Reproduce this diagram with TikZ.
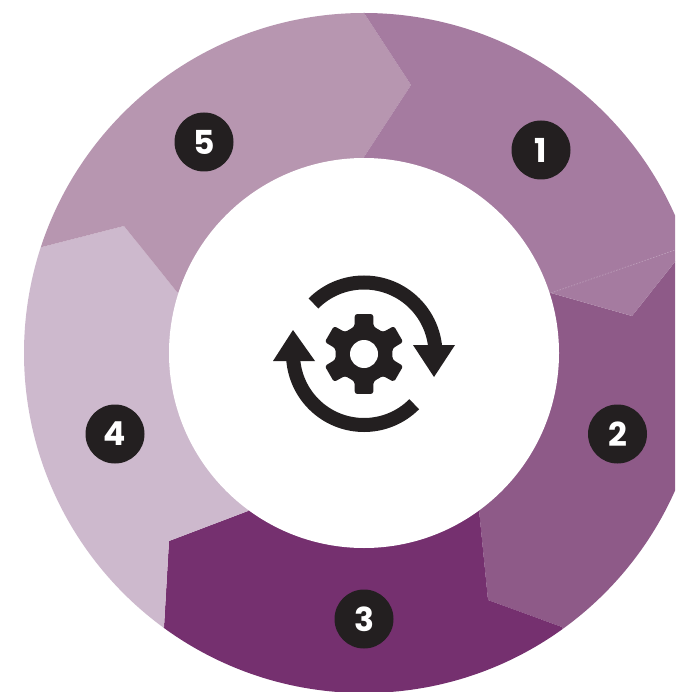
\documentclass[tikz,border=0pt]{standalone}
\usepackage{fontspec}
\usetikzlibrary{calc}
\setmainfont{Poppins}
\definecolor{segA}{HTML}{A57BA0}
\definecolor{segB}{HTML}{8E5A88}
\definecolor{segC}{HTML}{75306F}
\definecolor{segD}{HTML}{CDB9CD}
\definecolor{segE}{HTML}{B796B0}
\definecolor{ink}{HTML}{231F20}
\tikzset{
  badge/.style={circle,fill=ink,text=white,minimum size=59pt,inner sep=0pt,font=\fontsize{33}{33}\selectfont\bfseries},
  sweep/.style={draw=ink,line width=14pt,line cap=butt}
}
\begin{document}
\begin{tikzpicture}[x=1pt,y=-1pt]
\useasboundingbox (0,0) rectangle (675,692);
\fill[white] (0,0) rectangle (675,692);
\coordinate (c) at (364,353);
\coordinate (g) at (364,354);
\begin{scope}
  \clip (0,0) rectangle (675,692);
  \clip (c) circle[radius=340pt];
  \fill[segB] (300,200) -- (551,293) -- (632,316) -- (720,205) -- (720,660) -- (580,660) -- (562,627) -- (488,600) -- (479,510) -- (364,353) -- cycle;
  \fill[segC] (479,510) -- (488,600) -- (562,627) -- (600,720) -- (100,720) -- (164,627) -- (169,541) -- (248,511) -- (364,353) -- cycle;
  \fill[segD] (364,353) -- (248,511) -- (169,541) -- (164,627) -- (100,640) -- (0,500) -- (0,255) -- (42,247) -- (124,226) -- (177,292) -- cycle;
  \fill[segE] (364,353) -- (177,292) -- (124,226) -- (42,247) -- (0,258) -- (0,0) -- (340,-25) -- (364,13) -- (411,85) -- (364,157) -- cycle;
  \fill[segA] (364,353) -- (364,157) -- (411,85) -- (364,13) -- (340,-25) -- (720,-25) -- (720,205) -- (632,316) -- (551,293) -- cycle;
  \draw[white,opacity=.3,line width=.6pt,dash pattern=on 1.5pt off 1.5pt] (551,293) -- (675,250);
\end{scope}
\fill[white] (c) circle[radius=195pt];
\draw[sweep] (g) ++(135:71.5pt) arc[start angle=135,end angle=3,radius=71.5pt];
\draw[sweep] (g) ++(-45:71pt) arc[start angle=-45,end angle=-177,radius=71pt];
\fill[ink] (413,345) -- (455,345) -- (434,377) -- cycle;
\fill[ink] (273,361) -- (315,361) -- (293,330) -- cycle;
\fill[ink,rounded corners=2.5pt]
  ($(g)+(-43:41pt)$)
  \foreach \a in {-30,30,90,150,210,270} {
    -- ($(g)+(\a+13:41pt)$) -- ($(g)+(\a+19:29pt)$) -- ($(g)+(\a+41:29pt)$) -- ($(g)+(\a+47:41pt)$)
  } -- cycle;
\fill[white] (g) circle[radius=14pt];
\node[badge] (n1) at (541,150) {1};
\node[badge] (n2) at (617.5,434) {2};
\node[badge] (n3) at (364,619) {3};
\node[badge] (n4) at (115,434) {4};
\node[badge] (n5) at (204,142) {5};
\end{tikzpicture}
\end{document}
